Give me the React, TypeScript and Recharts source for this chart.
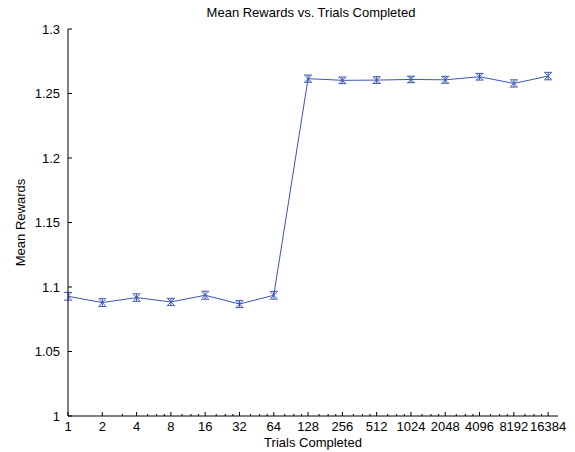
import { LineChart, Line, XAxis, YAxis, ErrorBar, Label } from 'recharts';

const trials = [1, 2, 4, 8, 16, 32, 64, 128, 256, 512, 1024, 2048, 4096, 8192, 16384];
const meanRewards = [
    1.0928, 1.0879, 1.0918, 1.0884, 1.0936, 1.0868, 1.0936,
    1.2615, 1.2602, 1.2604, 1.2609, 1.2606, 1.2630, 1.2578, 1.2635,
];
const errors = [
    0.0030, 0.0030, 0.0029, 0.0028, 0.0031, 0.0028, 0.0030,
    0.0028, 0.0026, 0.0026, 0.0025, 0.0027, 0.0026, 0.0028, 0.0029,
];
const yTicks = [1, 1.05, 1.1, 1.15, 1.2, 1.25, 1.3];
const minorTicks = [
    3, 5, 6, 7, 10, 12, 14, 20, 24, 28, 40, 48, 56, 80, 96, 112, 160, 192, 224,
    320, 384, 448, 640, 768, 896, 1280, 1536, 1792, 2560, 3072, 3584,
    5120, 6144, 7168, 10240, 12288, 14336,
];

const data = trials.map((t, i) => ({ trials: t, reward: meanRewards[i], err: errors[i] }));
const xTicks = [...trials, ...minorTicks].sort((a, b) => a - b);

const BLUE = '#3a55b6';
const FONT = '"Liberation Sans", Arial, sans-serif';

function XTick(props: any) {
    const { x, y, payload } = props;
    const major = trials.includes(payload.value);
    return (
        <g>
            <line x1={x} x2={x} y1={y} y2={y - (major ? 4 : 2)} stroke="#000" />
            {major && (
                <text x={x} y={y + 15} textAnchor="middle" fontSize={13} fontFamily={FONT} fill="#000">
                    {payload.value}
                </text>
            )}
        </g>
    );
}

function YTick(props: any) {
    const { x, y, payload } = props;
    return (
        <g>
            <line x1={x} x2={x + 4} y1={y} y2={y} stroke="#000" />
            <text x={x - 8} y={y} dy="0.35em" textAnchor="end" fontSize={13} fontFamily={FONT} fill="#000">
                {String(payload.value)}
            </text>
        </g>
    );
}

function XMark(props: any) {
    const { cx, cy } = props;
    if (cx == null || cy == null) return null;
    const s = 3;
    return (
        <g stroke={BLUE} strokeWidth={1}>
            <line x1={cx - s} y1={cy - s} x2={cx + s} y2={cy + s} />
            <line x1={cx - s} y1={cy + s} x2={cx + s} y2={cy - s} />
        </g>
    );
}

export default function App() {
    return (
        <div style={{ position: 'absolute', left: 0, top: 0, background: '#fff' }}>
            <LineChart width={575} height={452} data={data} margin={{ top: 29, right: 17, bottom: 0, left: 0 }}>
                <text x={311} y={17} textAnchor="middle" fontSize={13} fontFamily={FONT} fill="#000">
                    Mean Rewards vs. Trials Completed
                </text>
                <XAxis
                    dataKey="trials"
                    type="number"
                    scale="log"
                    domain={[1, 20000]}
                    allowDataOverflow
                    ticks={xTicks}
                    interval={0}
                    height={36}
                    tickSize={0}
                    tickMargin={0}
                    tickLine={false}
                    axisLine={{ stroke: '#000' }}
                    tick={<XTick />}
                >
                    <Label
                        value="Trials Completed"
                        position="insideBottom"
                        offset={5}
                        style={{ fontSize: 13, fontFamily: FONT, fill: '#000' }}
                    />
                </XAxis>
                <YAxis
                    type="number"
                    domain={[1, 1.3]}
                    ticks={yTicks}
                    interval={0}
                    width={68}
                    tickSize={0}
                    tickMargin={0}
                    tickLine={false}
                    axisLine={{ stroke: '#000' }}
                    tick={<YTick />}
                >
                    <Label
                        value="Mean Rewards"
                        angle={-90}
                        position="insideLeft"
                        content={(p: any) => {
                            const vb = p.viewBox || { x: 0, y: 29, width: 68, height: 387 };
                            const cy = vb.y + vb.height / 2;
                            return (
                                <text
                                    x={20}
                                    y={cy}
                                    transform={`rotate(-90, 20, ${cy})`}
                                    textAnchor="middle"
                                    dy="0.35em"
                                    fontSize={13}
                                    fontFamily={FONT}
                                    fill="#000"
                                >
                                    Mean Rewards
                                </text>
                            );
                        }}
                    />
                </YAxis>
                <Line
                    dataKey="reward"
                    type="linear"
                    stroke={BLUE}
                    strokeWidth={1}
                    dot={<XMark />}
                    activeDot={false}
                    isAnimationActive={false}
                >
                    <ErrorBar dataKey="err" direction="y" width={4} stroke={BLUE} strokeWidth={1} isAnimationActive={false} />
                </Line>
            </LineChart>
        </div>
    );
}
